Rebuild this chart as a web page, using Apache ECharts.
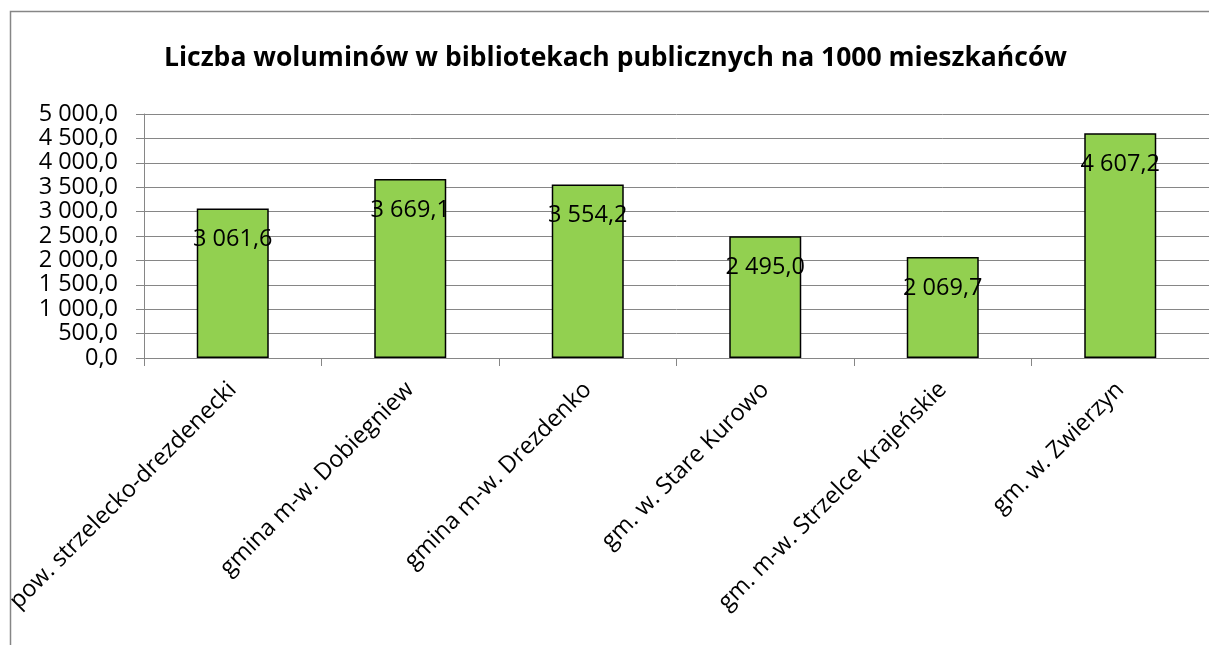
<!DOCTYPE html>
<html><head><meta charset="utf-8">
<script src="https://cdn.jsdelivr.net/npm/echarts@6/dist/echarts.min.js"></script>
<style>html,body{margin:0;padding:0;background:#fff}#c{width:1209px;height:645px}</style>
</head><body><div id="c"></div>
<script>
const titleText = 'Liczba woluminów w bibliotekach publicznych na 1000 mieszkańców';
const categories = ['pow. strzelecko-drezdenecki','gmina m-w. Dobiegniew','gmina m-w. Drezdenko','gm. w. Stare Kurowo','gm. m-w. Strzelce Krajeńskie','gm. w. Zwierzyn'];
const values = [3061.6, 3669.1, 3554.2, 2495.0, 2069.7, 4607.2];
const yMin = 0, yMax = 5000, yStep = 500;

function fmt(v){
  const s = Number(v).toFixed(1);
  const [i, d] = s.split('.');
  return i.replace(/\B(?=(\d{3})+(?!\d))/g, ' ') + ',' + d;
}
const FONT = 'Open Sans';
const chart = echarts.init(document.getElementById('c'), null, {renderer:'canvas'});
chart.setOption({
  animation:false,
  backgroundColor:'#fff',
  graphic:[{type:'rect', shape:{x:10.5,y:11.5,width:1400,height:1000}, style:{fill:'none',stroke:'#868686',lineWidth:1.5}, silent:true}],
  title:{text:titleText,left:159,top:40,textStyle:{fontFamily:FONT,fontSize:26.5,fontWeight:'bold',color:'#000'}},
  grid:{left:144,top:114,right:-3,bottom:287,containLabel:false},
  xAxis:{type:'category',data:categories,
    axisLine:{lineStyle:{color:'#868686',width:1}},
    axisTick:{show:true,length:8,lineStyle:{color:'#868686'}},
    axisLabel:{rotate:45,margin:28,interval:0,fontFamily:FONT,fontSize:23.5,color:'#000'}},
  yAxis:{type:'value',min:yMin,max:yMax,interval:yStep,
    axisLine:{show:true,lineStyle:{color:'#868686',width:1}},
    axisTick:{show:true,length:8,lineStyle:{color:'#868686'}},
    splitLine:{lineStyle:{color:'#868686',width:1}},
    axisLabel:{formatter:fmt,margin:26,fontFamily:FONT,fontSize:23.5,color:'#000'}},
  series:[{type:'bar',data:values,barWidth:72,
    itemStyle:{color:'#92D050',borderColor:'#000',borderWidth:1.5},
    label:{show:true,position:'insideTop',distance:19,formatter:p=>fmt(p.value),fontFamily:FONT,fontSize:23.5,color:'#000'}}]
});
</script></body></html>
